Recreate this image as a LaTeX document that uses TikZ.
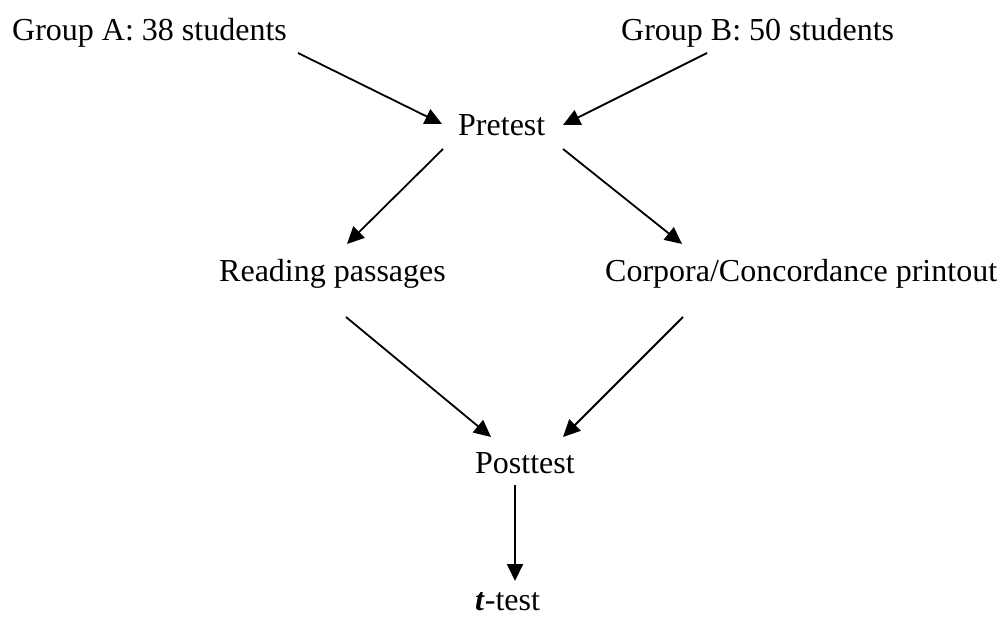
\documentclass[tikz,border=0pt]{standalone}
\usepackage{fontspec}
\setmainfont{Liberation Serif}
\usetikzlibrary{arrows.meta}
\begin{document}
\begin{tikzpicture}[x=1pt,y=-1pt,
  lbl/.style={inner sep=0pt,anchor=base west,font=\fontsize{32}{38}\selectfont},
  conn/.style={line width=1.8pt,-{Triangle[length=17pt,width=16pt]}}]
\useasboundingbox (0,0) rectangle (1003,617);
\node[lbl] (ga) at (12,41) {Group A: 38 students};
\node[lbl] (gb) at (621,41) {Group B: 50 students};
\node[lbl] (pre) at (458,136) {Pretest};
\node[lbl] (read) at (219,282) {Reading passages};
\node[lbl] (corp) at (605,282) {Corpora/Concordance printout};
\node[lbl] (post) at (475,473) {Posttest};
\node[lbl] (tt) at (475,610) {\textbf{\textit{t}}-test};
\coordinate (a1) at (298,53);  \coordinate (a2) at (442,124);
\coordinate (b1) at (707,53);  \coordinate (b2) at (563,125);
\coordinate (c1) at (443,149); \coordinate (c2) at (347,244);
\coordinate (d1) at (563,149); \coordinate (d2) at (682,244);
\coordinate (e1) at (346,317); \coordinate (e2) at (491,437);
\coordinate (f1) at (683,317); \coordinate (f2) at (563,437);
\coordinate (g1) at (515,485); \coordinate (g2) at (515,581);
\draw[conn] (a1) -- (a2);
\draw[conn] (b1) -- (b2);
\draw[conn] (c1) -- (c2);
\draw[conn] (d1) -- (d2);
\draw[conn] (e1) -- (e2);
\draw[conn] (f1) -- (f2);
\draw[conn] (g1) -- (g2);
\end{tikzpicture}
\end{document}
